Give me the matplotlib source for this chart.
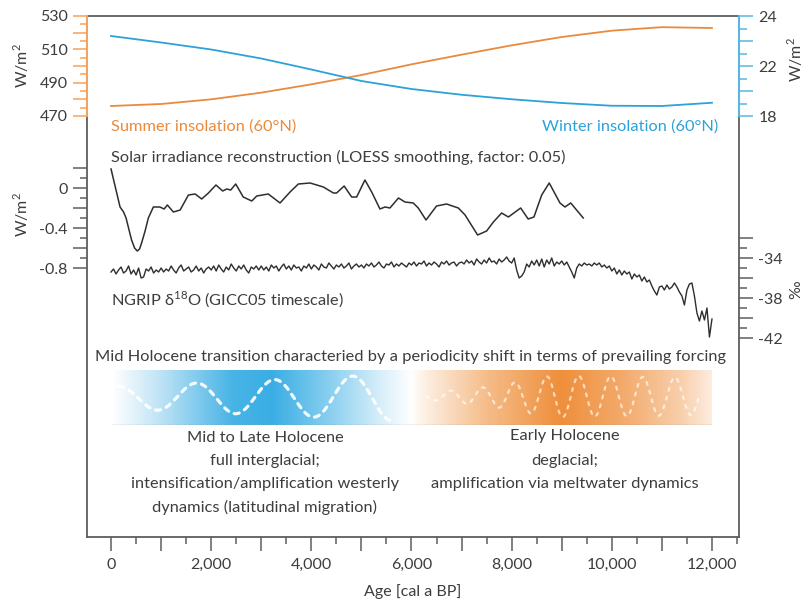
import numpy as np
import matplotlib.pyplot as plt
import matplotlib as mpl
from matplotlib.ticker import MultipleLocator, FixedLocator, FixedFormatter

plt.rcParams['font.family'] = ['Lato', 'DejaVu Sans']
plt.rcParams['mathtext.fontset'] = 'custom'
plt.rcParams['mathtext.rm'] = 'Lato'
plt.rcParams['axes.unicode_minus'] = False

# ---- data ----
ins_age = [0, 1000, 2000, 3000, 4000, 5000, 6000, 7000, 8000, 9000, 10000, 11000, 12000]
summer_ins = [476.0, 477.2, 480.0, 484.0, 489.0, 494.6, 501.0, 506.8, 512.4, 517.4, 521.2, 523.3, 522.8]
winter_ins = [23.2, 22.94, 22.66, 22.30, 21.86, 21.40, 21.08, 20.85, 20.67, 20.52, 20.41, 20.40, 20.53]

solar_age = [0, 90, 180, 250, 300, 350, 410, 470, 525, 570, 610, 680, 745, 845, 975, 1060,
             1125, 1245, 1380, 1545, 1680, 1810, 1945, 2095, 2230, 2310, 2390, 2490, 2640,
             2810, 2910, 3140, 3375, 3575, 3740, 3975, 4240, 4440, 4505, 4655, 4805, 4905,
             5070, 5205, 5370, 5470, 5570, 5740, 5870, 6035, 6135, 6290, 6500, 6700, 6935,
             7070, 7320, 7500, 7635, 7800, 7935, 8180, 8330, 8445, 8600, 8750, 8965, 9065,
             9180, 9430]
solar_irr = [0.19, 0.0, -0.19, -0.24, -0.30, -0.40, -0.52, -0.60, -0.63, -0.61, -0.55, -0.43,
             -0.30, -0.19, -0.19, -0.21, -0.17, -0.24, -0.22, -0.07, -0.06, -0.11, -0.05,
             0.03, -0.03, -0.01, -0.02, 0.04, -0.09, -0.13, -0.08, -0.06, -0.15, -0.04, 0.04,
             0.05, 0.01, -0.05, -0.05, 0.02, -0.09, -0.09, 0.08, -0.04, -0.21, -0.19, -0.20,
             -0.10, -0.14, -0.15, -0.20, -0.32, -0.18, -0.16, -0.20, -0.27, -0.47, -0.43,
             -0.34, -0.25, -0.29, -0.20, -0.31, -0.29, -0.07, 0.05, -0.15, -0.19, -0.15,
             -0.30]

ngrip_age = np.arange(0, 12001, 50)
ngrip_d18o = [
    -35.4, -35.1, -35.6, -35.2, -34.9, -35.5, -35.3, -34.8, -35.6, -35.2, -35.7, -35.0, -36.0, -35.9, -35.1, -35.3, -34.9, -35.5, -35.2, -35.4,
    -35.0, -35.4, -35.1, -35.3, -34.8, -35.2, -35.5, -35.0, -34.7, -35.3, -35.1, -34.9, -35.4, -35.2, -34.8, -35.3, -35.0, -35.5, -35.1, -34.9,
    -35.2, -34.8, -35.3, -34.7, -35.1, -35.4, -34.9, -35.2, -34.6, -35.0, -35.3, -34.8, -35.1, -34.7, -35.2, -35.5, -34.9, -35.1, -34.8, -35.2,
    -34.8, -35.2, -34.9, -35.3, -34.7, -35.0, -34.8, -35.3, -34.9, -34.6, -35.1, -34.8, -35.2, -34.7, -35.0, -34.9, -35.3, -34.8, -35.0, -34.6,
    -35.1, -34.7, -34.9, -35.2, -34.6, -34.9, -35.0, -34.5, -34.8, -35.1, -34.7, -34.9, -34.6, -35.0, -34.8, -34.5, -35.1, -34.8, -34.6, -34.9,
    -34.7, -35.0, -34.6, -34.8, -34.5, -34.9, -34.7, -34.4, -34.8, -35.0, -34.6, -34.7, -34.4, -34.9, -34.6, -34.8, -34.5, -34.7, -34.9, -34.5,
    -34.7, -34.4, -34.8, -34.5, -34.6, -34.3, -34.8, -34.5, -34.7, -34.4, -34.6, -34.9, -34.4, -34.6, -34.3, -34.7, -34.5, -34.4, -34.8, -34.5,
    -34.4, -34.6, -34.2, -34.5, -34.3, -34.7, -34.1, -34.4, -34.6, -34.2, -34.5, -34.0, -34.4, -34.3, -34.6, -34.1, -34.4, -34.2, -33.9, -34.3,
    -34.5, -34.0, -35.2, -36.0, -35.8, -35.4, -34.6, -34.9, -34.3, -34.7, -34.2, -34.8, -34.1, -34.9, -34.2, -34.6, -34.0, -34.8, -34.4, -34.6,
    -34.3, -34.7, -34.4, -34.9, -35.4, -36.0, -35.0, -34.6, -34.8, -34.5, -34.7, -34.6, -34.8, -34.5, -34.7, -34.5, -34.9, -34.7, -35.0, -34.8,
    -35.3, -35.0, -35.6, -35.2, -35.7, -35.3, -35.6, -35.4, -36.1, -35.6, -35.9, -35.7, -36.3, -35.9, -36.4, -36.2, -36.8, -37.3, -37.7, -36.9,
    -36.8, -37.2, -36.7, -37.1, -36.9, -36.5, -36.9, -37.4, -37.8, -38.7, -37.2, -36.6, -36.5, -37.8, -39.5, -40.3, -39.3, -40.2, -39.0, -41.9,
    -40.1,
]

x_ticks_major = list(range(0, 12001, 1000))
x_ticklabels = ['{:,}'.format(t) if t % 2000 == 0 else '' for t in x_ticks_major]

# ---- style ----
W, H = 804, 608
TXT = '#3d3d3d'
ORANGE = '#e98a3d'
BLUE = '#2ca2d9'
ORANGE_SP = '#f3a360'
BLUE_SP = '#5ab7e0'
GRAY = '#5e5e5e'
XMIN, XMAX = -480, 12540
FS = 11.8

fig = plt.figure(figsize=(W / 100, H / 100), dpi=100)


def axes_px(x0, y0, x1, y1):
    a = fig.add_axes([x0 / W, 1 - y1 / H, (x1 - x0) / W, (y1 - y0) / H])
    a.set_xlim(XMIN, XMAX)
    a.patch.set_alpha(0)
    return a


def ftext(px, py, s, **kw):
    kw.setdefault('color', TXT)
    kw.setdefault('fontsize', FS)
    kw.setdefault('va', 'center')
    fig.text(px / W, 1 - py / H, s, **kw)


# main frame with age axis
ax = axes_px(87, 16, 739, 537)
for sp in ax.spines.values():
    sp.set_color(GRAY)
    sp.set_linewidth(1.3)
ax.set_yticks([])
ax.xaxis.set_major_locator(FixedLocator(x_ticks_major))
ax.xaxis.set_major_formatter(FixedFormatter(x_ticklabels))
ax.xaxis.set_minor_locator(MultipleLocator(500))
ax.tick_params(axis='x', which='major', length=10, width=1.1, color=GRAY,
               labelsize=11.5, labelcolor=TXT, pad=5)
ax.tick_params(axis='x', which='minor', length=5, width=1.1, color=GRAY)
ax.set_xlabel('Age [cal a BP]', fontsize=11.5, color=TXT, labelpad=9)

# insolation panel
ax1 = axes_px(87, 16, 739, 116)
ax1.plot(ins_age, summer_ins, color=ORANGE, lw=1.3)
ax1.set_ylim(470, 530)
for k in ['top', 'right', 'bottom']:
    ax1.spines[k].set_visible(False)
ax1.spines['left'].set_color(ORANGE_SP)
ax1.spines['left'].set_linewidth(1.5)
ax1.set_xticks([])
ax1.yaxis.set_major_locator(FixedLocator([470, 480, 490, 500, 510, 520, 530]))
ax1.yaxis.set_major_formatter(FixedFormatter(['470', '', '490', '', '510', '', '530']))
ax1.yaxis.set_minor_locator(MultipleLocator(5))
ax1.tick_params(axis='y', which='major', length=10, width=1.1, color=ORANGE_SP,
                labelsize=11.5, labelcolor=TXT, pad=4)
ax1.tick_params(axis='y', which='minor', length=5, width=1.1, color=ORANGE_SP)

ax2 = ax1.twinx()
ax2.set_xlim(XMIN, XMAX)
ax2.plot(ins_age, winter_ins, color=BLUE, lw=1.3)
ax2.set_ylim(20, 24)
for k in ['top', 'left', 'bottom']:
    ax2.spines[k].set_visible(False)
ax2.spines['right'].set_color(BLUE_SP)
ax2.spines['right'].set_linewidth(1.5)
ax2.yaxis.set_major_locator(FixedLocator([20, 21, 22, 23, 24]))
ax2.yaxis.set_major_formatter(FixedFormatter(['18', '', '22', '', '24']))
ax2.yaxis.set_minor_locator(MultipleLocator(0.5))
ax2.tick_params(axis='y', which='major', length=10, width=1.1, color=BLUE_SP,
                labelsize=11.5, labelcolor=TXT, pad=4)
ax2.tick_params(axis='y', which='minor', length=6, width=1.1, color=BLUE_SP)

# solar irradiance panel
ax3 = axes_px(87, 168, 739, 268)
ax3.plot(solar_age, solar_irr, color='#2e2e2e', lw=1.1, clip_on=False,
         solid_joinstyle='round')
ax3.set_ylim(-0.8, 0.2)
for sp in ax3.spines.values():
    sp.set_visible(False)
ax3.set_xticks([])
ax3.yaxis.set_major_locator(FixedLocator([-0.8, -0.6, -0.4, -0.2, 0, 0.2]))
ax3.yaxis.set_major_formatter(FixedFormatter(['-0.8', '', '-0.4', '', '0', '']))
ax3.yaxis.set_minor_locator(MultipleLocator(0.1))
ax3.tick_params(axis='y', which='major', length=10, width=1.1, color=GRAY,
                labelsize=11.5, labelcolor=TXT, pad=4)
ax3.tick_params(axis='y', which='minor', length=5, width=1.1, color=GRAY)

# NGRIP panel
ax4 = axes_px(87, 238, 739, 338)
ax4.plot(ngrip_age, ngrip_d18o, color='#2e2e2e', lw=1.0, clip_on=False)
ax4.set_ylim(-42, -32)
for sp in ax4.spines.values():
    sp.set_visible(False)
ax4.set_xticks([])
ax4.yaxis.tick_right()
ax4.yaxis.set_major_locator(FixedLocator([-42, -40, -38, -36, -34, -32]))
ax4.yaxis.set_major_formatter(FixedFormatter(['-42', '', '-38', '', '-34', '']))
ax4.yaxis.set_minor_locator(MultipleLocator(1))
ax4.tick_params(axis='y', which='major', length=10, width=1.1, color=GRAY,
                labelsize=11.5, labelcolor=TXT, pad=4)
ax4.tick_params(axis='y', which='minor', length=6, width=1.1, color=GRAY)

# schematic band: periodicity shift
band_stops = [(0, '#ffffff'), (900, '#c3e5f6'), (2400, '#48b4e6'), (3200, '#3aaee4'),
              (4200, '#7ecaee'), (5400, '#d9effa'), (6000, '#ffffff'), (6300, '#fdeee1'),
              (7500, '#f5bd8a'), (9000, '#ef8f3b'), (10200, '#f3a96a'), (11400, '#f8cfab'),
              (12000, '#fdebdd')]
cmap = mpl.colors.LinearSegmentedColormap.from_list(
    'band', [(a / 12000, c) for a, c in band_stops])
ax5 = axes_px(87, 370, 739, 425)
ax5.set_ylim(0, 1)
ax5.axis('off')
ax5.imshow(np.linspace(0, 1, 800)[None, :], cmap=cmap, aspect='auto',
           extent=[0, 12000, 0, 1], interpolation='bilinear')
ax5.hlines(0, 0, 12000, color='#9a9a9a', lw=0.9)
ax5.set_xlim(XMIN, XMAX)

# white dashed waves (schematic only)
xb = np.linspace(150, 5600, 400)
ampb = 0.20 + 0.22 * (xb - 150) / 5450
ax5.plot(xb, 0.5 - ampb * np.cos(2 * np.pi * (xb - 920) / 1560), color='white',
         lw=2.3, dashes=(1.6, 1.9), dash_capstyle='round', alpha=0.92)
xo = np.linspace(6300, 11750, 500)
ampo = np.interp(xo, [6300, 7600, 8800, 11750], [0.06, 0.18, 0.38, 0.34])
ax5.plot(xo, 0.52 - ampo * np.cos(2 * np.pi * (xo - 7100) / 640), color='white',
         lw=1.6, dashes=(1.3, 2.8), dash_capstyle='round', alpha=0.65)

# texts
ftext(111, 127, 'Summer insolation (60°N)', color=ORANGE)
ftext(718, 127, 'Winter insolation (60°N)', color=BLUE, ha='right')
ftext(111, 157, 'Solar irradiance reconstruction (LOESS smoothing, factor: 0.05)')
ftext(111, 300, r'NGRIP δ$^{18}$O (GICC05 timescale)')
ftext(411, 357, 'Mid Holocene transition characteried by a periodicity shift in terms of prevailing forcing', ha='center')
ftext(265, 438, 'Mid to Late Holocene', ha='center')
ftext(565, 436, 'Early Holocene', ha='center')
ftext(265, 461, 'full interglacial;', ha='center')
ftext(265, 484, 'intensification/amplification westerly', ha='center')
ftext(265, 507, 'dynamics (latitudinal migration)', ha='center')
ftext(565, 461, 'deglacial;', ha='center')
ftext(565, 484, 'amplification via meltwater dynamics', ha='center')

ftext(21, 66, 'W/m$^2$', rotation=90, ha='center', fontsize=11.5)
ftext(21, 215, 'W/m$^2$', rotation=90, ha='center', fontsize=11.5)
ftext(795, 60, 'W/m$^2$', rotation=90, ha='center', fontsize=11.5)
ftext(796, 290, '‰', rotation=90, ha='center', fontsize=11.5)

fig.savefig('out.png', dpi=100)
